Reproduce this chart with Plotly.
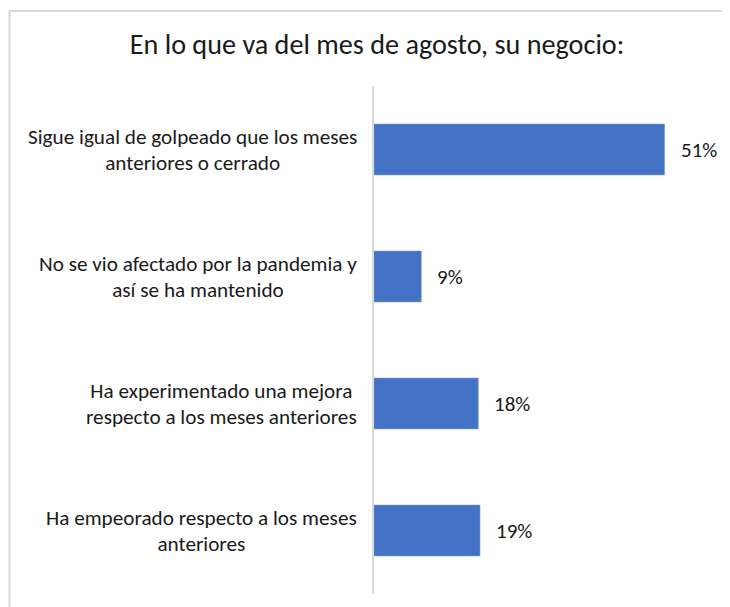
import plotly.graph_objects as go

# ---- data ----
categories = [
    "Sigue igual de golpeado que los meses<br>anteriores o cerrado",
    "No se vio afectado por la pandemia y<br>así se ha mantenido",
    "Ha experimentado una mejora<br>respecto a los meses anteriores",
    "Ha empeorado respecto a los meses<br>anteriores",
]
values = [51.0, 8.3, 18.3, 18.6]
value_labels = ["51%", "9%", "18%", "19%"]
title_text = "En lo que va del mes de agosto, su negocio:"

FONT = "Calibri, Carlito, Lato, sans-serif"
TEXT_COLOR = "#1a1a1a"
BAR_COLOR = "#4472C4"
GRID_COLOR = "#d9d9d9"

# the page body has an 8px margin, so the figure is sized to fit the window
OFF = 8
W, H = 730 - OFF, 607 - OFF
L, R, T, B = 366, 10, 78, 13
plot_w = W - L - R
plot_h = H - T - B
x_max = plot_w * 51 / 290.5

fig = go.Figure(
    go.Bar(
        x=values,
        y=categories,
        orientation="h",
        marker=dict(color=BAR_COLOR, line=dict(color="#6f93d3", width=0.6)),
        hoverinfo="skip",
    )
)

annotations = []
for cat in categories:
    # slightly tighter line spacing: smaller base size, full-size spans
    lines = cat.split("<br>")
    txt = "<br>".join(
        "<span style='font-size:21.2px'>{}</span>".format(s) for s in lines
    )
    annotations.append(dict(
        x=0, xref="paper", y=cat, yref="y",
        text=txt, showarrow=False,
        xanchor="right", yanchor="middle", align="center",
        xshift=-15,
        font=dict(family=FONT, size=20, color=TEXT_COLOR),
    ))
for cat, v, lab in zip(categories, values, value_labels):
    annotations.append(dict(
        x=v, xref="x", y=cat, yref="y",
        text=lab, showarrow=False,
        xanchor="left", yanchor="middle",
        xshift=14,
        font=dict(family=FONT, size=21, color=TEXT_COLOR),
    ))


def px_x(px):
    return (px - L) / plot_w


def px_y(py):
    return (H - B - py) / plot_h


frame_path = "M {x0},{y0} L {x0},{y1} L {x2},{y1}".format(
    x0=px_x(1.5), y0=px_y(640), y1=px_y(3), x2=px_x(760)
)
shapes = [dict(
    type="path", xref="paper", yref="paper", path=frame_path,
    line=dict(color=GRID_COLOR, width=2),
)]

fig.update_layout(
    width=W, height=H,
    margin=dict(l=L, r=R, t=T, b=B, pad=0),
    paper_bgcolor="white", plot_bgcolor="white",
    bargap=0.6,
    showlegend=False,
    title=dict(
        text=title_text, xref="container", yref="container",
        x=369 / W, y=1 - 36 / H, xanchor="center", yanchor="middle",
        font=dict(family=FONT, size=28.2, color=TEXT_COLOR),
    ),
    xaxis=dict(range=[0, x_max], visible=False, fixedrange=True),
    yaxis=dict(
        categoryorder="array", categoryarray=categories, autorange="reversed",
        showticklabels=False, showgrid=False, zeroline=False, ticks="",
        showline=True, linecolor=GRID_COLOR, linewidth=2, fixedrange=True,
    ),
    annotations=annotations,
    shapes=shapes,
)

fig.write_html("out.html")
